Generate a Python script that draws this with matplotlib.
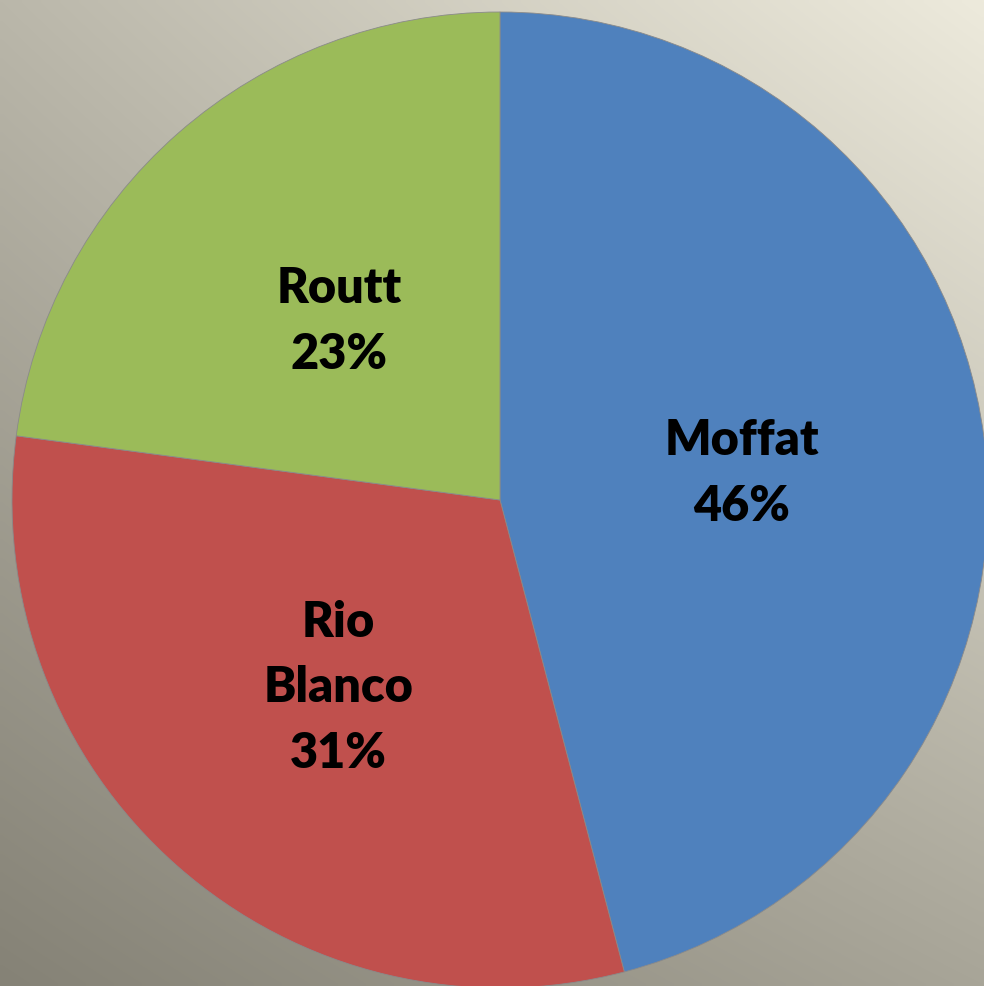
import matplotlib.pyplot as plt
import numpy as np

counties = ["Moffat", "Rio Blanco", "Routt"]
shares = [45.9, 31.2, 22.9]
pct_labels = ["46%", "31%", "23%"]
colors = ["#4F81BD", "#C0504D", "#9BBB59"]

W, H, DPI = 984, 986, 100


def main():
    fig = plt.figure(figsize=(W / DPI, H / DPI), dpi=DPI)

    # background gradient: light top-right, dark bottom-left
    bg = fig.add_axes([0, 0, 1, 1], zorder=0)
    tl = np.array([186, 183, 170]) / 255
    tr = np.array([237, 234, 220]) / 255
    bl = np.array([133, 130, 118]) / 255
    br = np.array([168, 165, 152]) / 255
    u = np.linspace(0, 1, 200)[None, :, None]
    v = np.linspace(0, 1, 200)[:, None, None]
    img = (1 - v) * ((1 - u) * tl + u * tr) + v * ((1 - u) * bl + u * br)
    bg.imshow(img, aspect="auto", extent=[0, 1, 0, 1], interpolation="bilinear")
    bg.axis("off")

    cx, cy, r = 500, 500, 488
    ax = fig.add_axes(
        [(cx - r) / W, (H - cy - r) / H, 2 * r / W, 2 * r / H], zorder=1
    )
    ax.set_facecolor("none")
    wedges, _ = ax.pie(
        shares,
        colors=colors,
        startangle=90,
        counterclock=False,
        radius=1,
        wedgeprops=dict(linewidth=0.6, edgecolor="#8a8a8a"),
    )
    ax.set_xlim(-1, 1)
    ax.set_ylim(-1, 1)
    ax.set_aspect("equal")
    ax.axis("off")

    for w, name, pct in zip(wedges, counties, pct_labels):
        mid = np.deg2rad((w.theta1 + w.theta2) / 2)
        label = name.replace(" ", "\n") + "\n" + pct
        ax.text(
            0.5 * np.cos(mid),
            0.5 * np.sin(mid) - 0.01,
            label,
            ha="center",
            va="center",
            fontsize=35,
            fontweight="heavy",
            family="Lato",
            linespacing=1.55,
            color="black",
        )

    fig.savefig("out.png", dpi=DPI)


if __name__ == "__main__":
    main()
